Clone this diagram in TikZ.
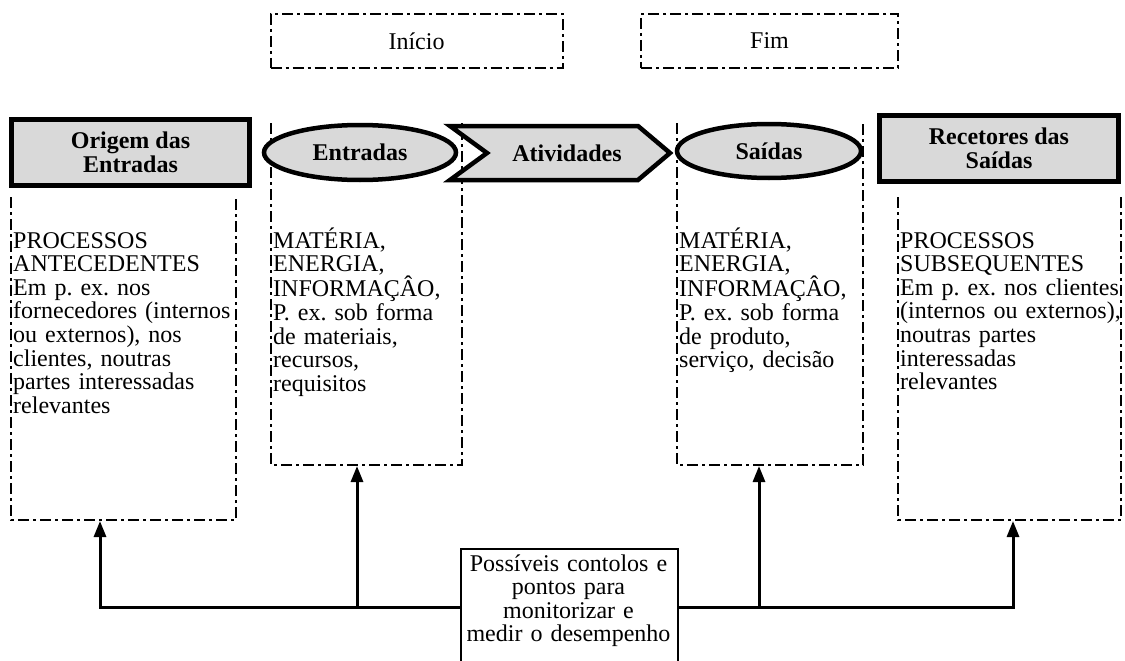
\documentclass[tikz,border=0pt]{standalone}
\usepackage{fontspec}
\setmainfont{Liberation Serif}
\usetikzlibrary{arrows.meta,shapes.geometric}
\definecolor{shade}{RGB}{217,217,217}
\frenchspacing
\begin{document}
\begin{tikzpicture}[x=1pt,y=-1pt,
  dashdot/.style={line width=2pt, dash pattern=on 11pt off 4pt on 3pt off 4pt},
  framebox/.style={dashdot, draw, inner sep=0pt, font=\fontsize{24}{23.6}\selectfont},
  hdr/.style={draw, line width=4.5pt, fill=shade, align=center, inner sep=0pt,
              font=\bfseries\fontsize{24}{23.5}\selectfont},
  body/.style={anchor=base west, align=left, inner sep=0pt, text width=230pt,
               font=\fontsize{24}{23.6}\selectfont},
  ctrlbox/.style={draw, line width=2pt, fill=white, inner sep=0pt},
  wire/.style={line width=3pt},
  tip/.style={-{Triangle[length=16pt,width=12pt]}}
]
\useasboundingbox (0,0) rectangle (1125,661);

% start and end markers
\node[framebox, minimum width=292pt, minimum height=54pt] (start) at (416.5,41) {Início};
\node[framebox, minimum width=257pt, minimum height=54pt] (finish) at (769.5,41) {Fim};

% dash-dot columns (open at the top)
\draw[dashdot] (11,197) -- (11,520) -- (236,520) -- (236,197);
\draw[dashdot] (271,123) -- (271,465) -- (462,465) -- (462,123);
\draw[dashdot] (677,123) -- (677,465) -- (863,465) -- (863,123);
\draw[dashdot] (898,197) -- (898,520) -- (1121,520) -- (1121,197);

% header shapes
\node[hdr, minimum width=238pt, minimum height=66pt] (orig) at (130.5,152.5) {Origem das\\Entradas};
\node[hdr, ellipse, minimum width=192pt, minimum height=55pt] (inp) at (360,152.5) {Entradas};
\draw[line width=4.5pt, fill=shade, line join=miter]
  (450,126) -- (638,126) -- (670,153) -- (638,180) -- (450,180) -- (487,153) -- cycle;
\node[font=\bfseries\fontsize{24}{23.5}\selectfont, inner sep=0pt] (act) at (567,153) {Atividades};
\node[hdr, ellipse, minimum width=184pt, minimum height=54pt] (outp) at (769,151) {Saídas};
\node[hdr, minimum width=239pt, minimum height=66pt] (recv) at (999,148.5) {Recetores das\\Saídas};

% column texts
\node[body] (srcText) at (13,248) {PROCESSOS\\ANTECEDENTES\\Em p. ex. nos\\fornecedores (internos\\ou externos), nos\\clientes, noutras\\partes interessadas\\relevantes};
\node[body] (inText) at (273,248) {MATÉRIA,\\ENERGIA,\\INFORMAÇÂO,\\P. ex. sob forma\\de materiais,\\recursos,\\requisitos};
\node[body] (outText) at (679,248) {MATÉRIA,\\ENERGIA,\\INFORMAÇÂO,\\P. ex. sob forma\\de produto,\\serviço, decisão};
\node[body] (recText) at (900,248) {PROCESSOS\\SUBSEQUENTES\\Em p. ex. nos clientes\\(internos ou externos),\\noutras partes\\interessadas\\relevantes};

% monitoring box and its connectors
\coordinate (bus) at (0,607);
\coordinate (aO) at (100,521);
\coordinate (aE) at (357,466);
\coordinate (aS) at (759,466);
\coordinate (aR) at (1013,521);
\coordinate (jE) at (357,607);
\coordinate (jS) at (759,607);

\node[ctrlbox, anchor=north west, minimum width=217pt, minimum height=125pt] (ctrl) at (460,548) {};
\node[anchor=base, align=center, text width=217pt, inner sep=0pt,
      font=\fontsize{24}{23.6}\selectfont]
  (ctrlText) at (568.5,571) {Possíveis contolos e\\pontos para\\monitorizar e\\medir o desempenho};

\draw[wire, tip] (ctrl.west |- bus) -| (aO);
\draw[wire, tip] (jE) -- (aE);
\draw[wire, tip] (ctrl.east |- bus) -| (aR);
\draw[wire, tip] (jS) -- (aS);
\end{tikzpicture}
\end{document}
